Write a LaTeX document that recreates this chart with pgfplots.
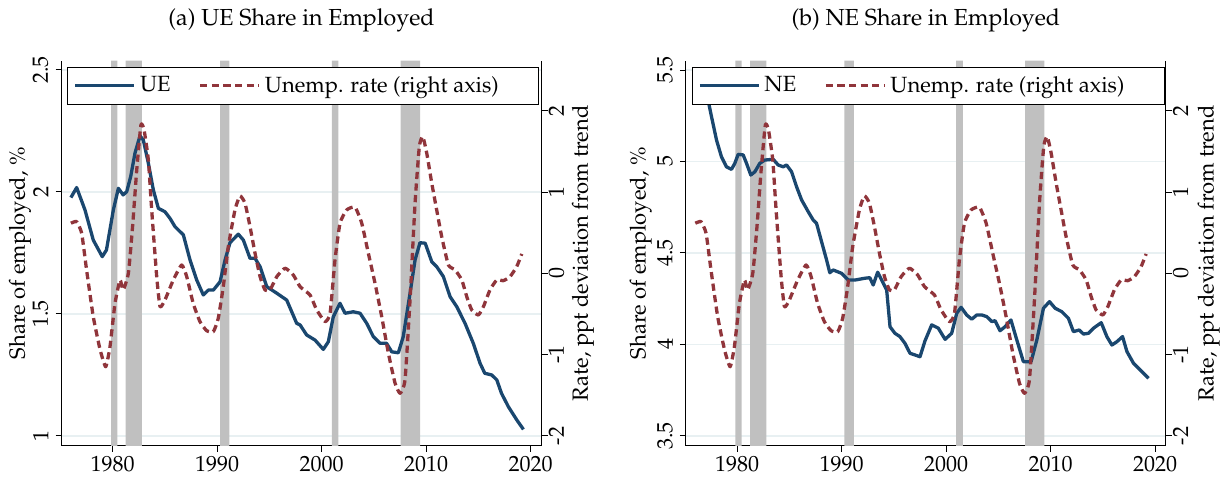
\documentclass[border=0pt]{standalone}
\usepackage[T1]{fontenc}
\usepackage{mathpazo}
\usepackage{pgfplots}
\pgfplotsset{compat=1.18}
\definecolor{uecol}{RGB}{26,71,111}
\definecolor{urcol}{RGB}{144,53,59}
\definecolor{recgray}{RGB}{192,192,192}
\definecolor{gridc}{RGB}{232,240,242}
\newcommand\fs{\fontsize{11}{13}\selectfont}
\newcommand\fst{\fontsize{11.6}{14}\selectfont}

\pgfplotstableread{
x y
1976.0 0.616
1976.55 0.636
1977.03 0.493
1977.5 0.042
1978.14 -0.533
1978.8 -0.942
1979.33 -1.148
1979.74 -0.902
1980.22 -0.368
1980.7 -0.081
1981.0 -0.204
1981.5 0.001
1981.9 0.574
1982.3 1.272
1982.7 1.825
1983.0 1.764
1983.41 1.395
1983.73 0.78
1984.21 -0.04
1984.53 -0.41
1985.0 -0.327
1985.8 -0.081
1986.6 0.103
1987.08 -0.04
1987.7 -0.368
1988.35 -0.594
1988.99 -0.705
1989.63 -0.717
1990.1 -0.553
1990.58 -0.164
1991.06 0.328
1991.7 0.78
1992.18 0.952
1992.66 0.862
1993.14 0.574
1993.62 0.247
1994.1 -0.04
1994.57 -0.204
1995.05 -0.204
1995.7 -0.04
1996.49 0.063
1997.28 -0.02
1997.93 -0.164
1998.88 -0.266
1999.52 -0.45
2000.32 -0.594
2000.8 -0.491
2001.27 0.165
2001.75 0.616
2002.39 0.78
2003.19 0.813
2003.83 0.616
2004.46 0.247
2005.1 -0.122
2005.74 -0.533
2006.38 -0.983
2007.02 -1.352
2007.5 -1.475
2007.97 -1.311
2008.45 -0.327
2008.93 0.862
2009.34 1.559
2009.67 1.682
2010.05 1.477
2010.53 1.108
2011.0 0.78
2011.48 0.451
2012.12 0.103
2012.76 0.042
2013.4 -0.081
2013.88 -0.287
2014.35 -0.45
2014.99 -0.512
2015.47 -0.41
2016.1 -0.204
2016.75 -0.081
2017.38 -0.09
2018.02 -0.04
2018.66 0.083
2019.14 0.239
}\unemp

\pgfplotstableread{
x y
1976.0 1.977
1976.55 2.018
1977.35 1.926
1978.14 1.803
1979.0 1.735
1979.4 1.762
1980.06 1.926
1980.54 2.015
1981.0 1.988
1981.34 2.001
1981.72 2.063
1982.13 2.159
1982.61 2.23
1982.93 2.213
1983.41 2.118
1983.89 2.008
1984.37 1.933
1985.0 1.919
1985.48 1.892
1985.96 1.858
1986.76 1.824
1987.4 1.721
1988.04 1.639
1988.67 1.578
1989.15 1.598
1989.63 1.598
1990.27 1.632
1990.75 1.721
1991.22 1.792
1992.02 1.827
1992.5 1.803
1993.14 1.728
1993.62 1.728
1994.1 1.694
1994.74 1.612
1995.7 1.585
1996.65 1.557
1997.6 1.462
1997.93 1.455
1998.56 1.414
1999.36 1.393
2000.15 1.355
2000.63 1.386
2001.11 1.489
2001.75 1.544
2002.23 1.503
2003.02 1.509
2003.67 1.503
2004.3 1.462
2004.94 1.407
2005.58 1.38
2006.2 1.38
2006.7 1.345
2007.33 1.341
2007.8 1.407
2008.45 1.585
2008.93 1.721
2009.4 1.792
2009.9 1.79
2010.53 1.714
2011.0 1.694
2011.64 1.653
2012.28 1.571
2012.92 1.53
2013.71 1.462
2014.5 1.38
2015.15 1.298
2015.6 1.257
2016.27 1.25
2016.75 1.23
2017.2 1.175
2017.86 1.12
2018.66 1.066
2019.3 1.027
}\ue

\pgfplotstableread{
x y
1976.8 5.47
1977.22 5.336
1977.55 5.245
1978.03 5.117
1978.5 5.026
1978.98 4.971
1979.46 4.957
1979.78 4.99
1980.1 5.039
1980.58 5.036
1980.9 4.99
1981.31 4.926
1981.7 4.944
1982.17 4.99
1982.65 5.008
1983.45 5.012
1983.93 4.981
1984.41 4.971
1984.73 4.981
1985.21 4.944
1985.69 4.862
1986.17 4.79
1986.8 4.726
1987.28 4.68
1987.6 4.662
1988.08 4.562
1988.56 4.462
1988.87 4.392
1989.19 4.407
1989.99 4.389
1990.63 4.352
1991.27 4.352
1992.23 4.362
1992.7 4.365
1993.02 4.325
1993.45 4.395
1993.83 4.352
1994.31 4.298
1994.63 4.097
1995.1 4.061
1995.58 4.043
1996.06 4.006
1996.54 3.952
1997.5 3.933
1997.98 4.02
1998.62 4.107
1999.25 4.089
1999.9 4.028
2000.53 4.061
2001.01 4.17
2001.43 4.203
2001.97 4.161
2002.45 4.138
2002.93 4.161
2003.41 4.161
2003.89 4.152
2004.37 4.125
2004.68 4.13
2005.16 4.075
2005.64 4.097
2006.2 4.134
2006.76 4.025
2007.39 3.906
2008.13 3.906
2008.68 4.025
2009.31 4.198
2009.89 4.234
2010.43 4.198
2011.07 4.179
2011.7 4.143
2012.18 4.07
2012.73 4.079
2013.14 4.057
2013.62 4.061
2014.1 4.089
2014.84 4.119
2015.38 4.043
2015.86 3.997
2016.34 4.015
2016.88 4.043
2017.3 3.961
2017.93 3.897
2018.57 3.861
2019.05 3.833
2019.37 3.815
}\ne

\pgfplotsset{
  base/.style={
    anchor=south west, scale only axis, width=240pt, height=192.65pt,
    xmin=1975.1, xmax=2021.03,
    tick align=outside, major tick length=3pt,
    tick style={black, line width=0.5pt},
    axis line style={black, line width=0.5pt, -},
    tick label style={font=\fs},
    label style={font=\fs},
  },
  leftax/.style={
    base,
    axis x line*=bottom, axis y line*=left,
    xtick={1980,1990,2000,2010,2020},
    xticklabels={1980,1990,2000,2010,2020},
    xticklabel style={yshift=1.5pt},
    ymajorgrids, grid style={gridc, line width=0.6pt},
    yticklabel style={rotate=90, anchor=south},
    title style={font=\fst, anchor=base, yshift=11.35pt},
  },
  rightax/.style={
    base,
    axis x line=none, axis y line*=right,
    ymin=-2.123, ymax=2.615,
    ytick={-2,-1,0,1,2}, yticklabels={-2,-1,0,1,2},
    yticklabel style={xshift=-3pt, rotate=90, anchor=north},
    ylabel={Rate, ppt deviation from trend},
    legend style={at={(rel axis cs:0.012,0.9844)}, anchor=north west,
      draw=black, line width=0.5pt, fill=white, font=\fs,
      legend columns=2, inner xsep=3pt, inner ysep=2.5pt,
      /tikz/every even column/.append style={column sep=12pt}},
    legend image code/.code={\draw[#1] (0pt,0pt) -- (29.5pt,0pt);},
  },
  uestyle/.style={uecol, line width=1.65pt, line join=round},
  urstyle/.style={urcol, line width=1.65pt, dash pattern=on 3.6pt off 2.2pt, line join=round, smooth, tension=0.3},
  rec/.style={fill=recgray, draw=none, forget plot},
}

\begin{document}
\begin{tikzpicture}
\path[use as bounding box] (0,0) rectangle (612.5pt,248pt);

% ---------- panel (a) ----------
\begin{axis}[leftax, at={(30.75pt,25pt)},
  ymin=0.959, ymax=2.538,
  ytick={1,1.5,2,2.5}, yticklabels={1,1.5,2,2.5},
  ylabel={Share of employed, \%},
  ylabel style={at={(axis description cs:-0.0865,0.5)}, anchor=center},
  title={(a) UE Share in Employed}]
\addplot[rec] coordinates {(1979.84,0.959) (1979.84,2.538) (1980.44,2.538) (1980.44,0.959)} \closedcycle;
\addplot[rec] coordinates {(1981.24,0.959) (1981.24,2.538) (1982.8,2.538) (1982.8,0.959)} \closedcycle;
\addplot[rec] coordinates {(1990.27,0.959) (1990.27,2.538) (1991.16,2.538) (1991.16,0.959)} \closedcycle;
\addplot[rec] coordinates {(2000.96,0.959) (2000.96,2.538) (2001.59,2.538) (2001.59,0.959)} \closedcycle;
\addplot[rec] coordinates {(2007.56,0.959) (2007.56,2.538) (2009.41,2.538) (2009.41,0.959)} \closedcycle;
\addplot[uestyle] table {\ue};
\end{axis}
\begin{axis}[rightax, at={(30.75pt,25pt)},
  ylabel style={at={(axis description cs:1.0865,0.5)}, anchor=center}]
\addlegendimage{uestyle}
\addlegendentry{UE}
\addplot[urstyle] table {\unemp};
\addlegendentry{Unemp. rate (right axis)\hspace*{15pt}}
\end{axis}

% ---------- panel (b) ----------
\begin{axis}[leftax, at={(342.95pt,25pt)},
  ymin=3.445, ymax=5.551,
  ytick={3.5,4,4.5,5,5.5}, yticklabels={3.5,4,4.5,5,5.5},
  ylabel={Share of employed, \%},
  ylabel style={at={(axis description cs:-0.094,0.5)}, anchor=center},
  title={(b) NE Share in Employed}]
\addplot[rec] coordinates {(1979.84,3.445) (1979.84,5.551) (1980.44,5.551) (1980.44,3.445)} \closedcycle;
\addplot[rec] coordinates {(1981.24,3.445) (1981.24,5.551) (1982.8,5.551) (1982.8,3.445)} \closedcycle;
\addplot[rec] coordinates {(1990.27,3.445) (1990.27,5.551) (1991.16,5.551) (1991.16,3.445)} \closedcycle;
\addplot[rec] coordinates {(2000.96,3.445) (2000.96,5.551) (2001.59,5.551) (2001.59,3.445)} \closedcycle;
\addplot[rec] coordinates {(2007.56,3.445) (2007.56,5.551) (2009.41,5.551) (2009.41,3.445)} \closedcycle;
\addplot[uestyle] table {\ne};
\end{axis}
\begin{axis}[rightax, at={(342.95pt,25pt)},
  ylabel style={at={(axis description cs:1.089,0.5)}, anchor=center}]
\addlegendimage{uestyle}
\addlegendentry{NE}
\addplot[urstyle] table {\unemp};
\addlegendentry{Unemp. rate (right axis)\hspace*{15pt}}
\end{axis}
\end{tikzpicture}
\end{document}
